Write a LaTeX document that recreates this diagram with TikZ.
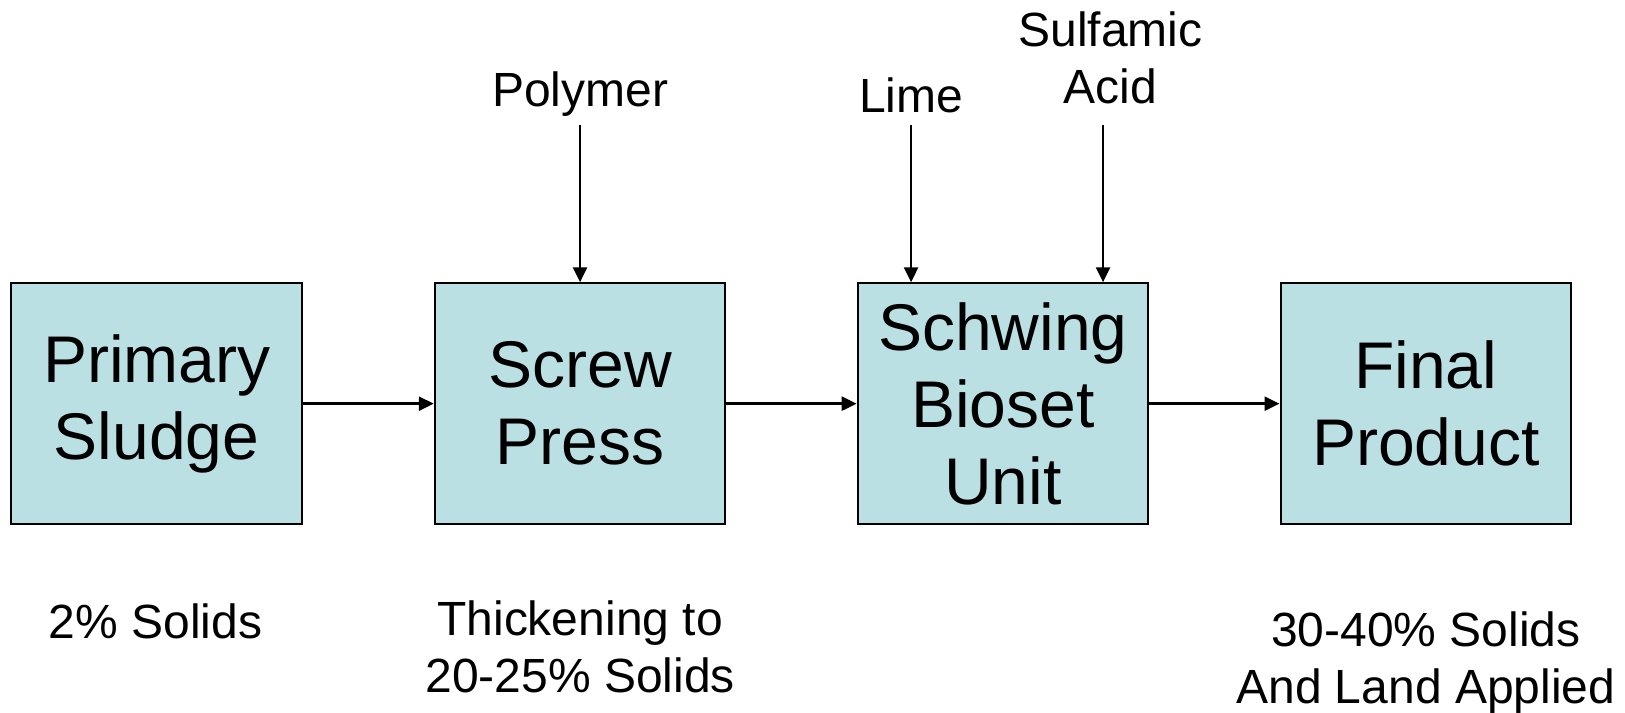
\documentclass[tikz,border=0pt]{standalone}
\usepackage{fontspec}
\setmainfont{Liberation Sans}
\usetikzlibrary{arrows.meta}
\definecolor{boxfill}{HTML}{BBE0E3}
\tikzset{
  procbox/.style={draw=black, line width=1pt, fill=boxfill, minimum width=145.3pt, minimum height=120.4pt, inner sep=0pt, align=center, font=\fontsize{33}{38.5}\selectfont},
  lbl/.style={inner sep=0pt, align=center, font=\fontsize{24}{28.5}\selectfont},
  arr/.style={line width=1.3pt, -{Triangle[length=7.5pt,width=7pt]}}
}
\begin{document}
\begin{tikzpicture}[x=0.5189pt,y=-0.5189pt]
\useasboundingbox (0,0) rectangle (1566,687);
\node[procbox] (b1) at (151,389) {Primary\\Sludge};
\node[procbox] (b2) at (559,389) {Screw\\Press};
\node[procbox] (b3) at (966.5,389) {Schwing\\Bioset\\Unit};
\node[procbox] (b4) at (1374,389) {Final\\Product};
\node[lbl, anchor=base] (poly) at (559,103) {Polymer};
\node[lbl, anchor=base] (lime) at (878,108) {Lime};
\node[lbl, anchor=base] (sulf) at (1070,100) {Sulfamic\\Acid};
\node[lbl, anchor=base] (s1) at (150,615) {2\% Solids};
\node[lbl, anchor=base] (s2) at (559,667) {Thickening to\\20-25\% Solids};
\node[lbl, anchor=base] (s4) at (1374,678) {30-40\% Solids\\And Land Applied};
\draw[arr] (b1) -- (b2);
\draw[arr] (b2) -- (b3);
\draw[arr] (b3) -- (b4);
\coordinate (pstart) at (559,120);
\coordinate (lstart) at (878,120);
\coordinate (sstart) at (1063,120);
\draw[arr] (pstart) -- (pstart |- b2.north);
\draw[arr] (lstart) -- (lstart |- b3.north);
\draw[arr] (sstart) -- (sstart |- b3.north);
\end{tikzpicture}
\end{document}
